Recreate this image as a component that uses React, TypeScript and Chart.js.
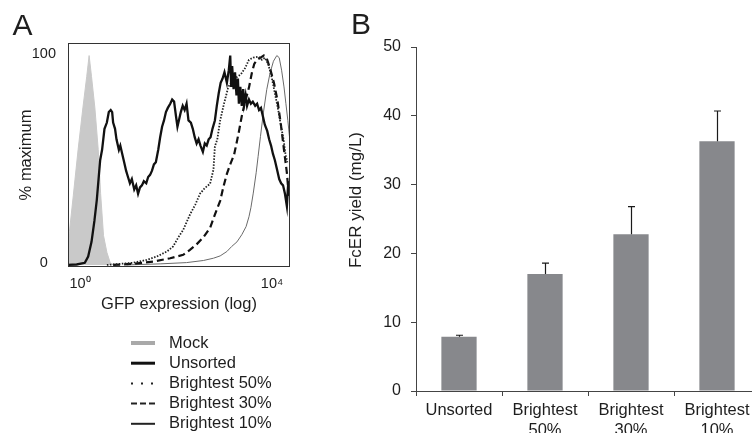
import React, { useEffect, useRef } from 'react';
import { Chart, registerables } from 'chart.js';

Chart.register(...registerables);

const FONT = '"Liberation Sans", Arial, Helvetica, sans-serif';
const TEXT = '#1e1e1e';

// ---------- Panel A : GFP histogram (x = log10 decades, y = % of maximum) ----------
const HIST_X_TICKS = [0, 4];
const HIST_X_TICK_LABELS = ['10⁰', '10⁴'];
const HIST_Y_TICKS = [0, 100];
const HIST_Y_TICK_LABELS = ['0', '100'];
const SERIES_NAMES = ['Mock', 'Unsorted', 'Brightest 50%', 'Brightest 30%', 'Brightest 10%'];

const MOCK: [number, number][] = [
  [-0.25, 11], [-0.22, 16], [-0.14, 33], [-0.04, 55], [0.06, 75], [0.14, 90], [0.19, 100],
  [0.24, 90], [0.31, 75], [0.38, 55], [0.43, 34], [0.49, 14], [0.56, 6], [0.63, 1], [0.69, 0], [0.75, 0],
];

const UNSORTED: [number, number][] = [
  [-0.25, 0], [-0.07, 0.2], [0.1, 1], [0.17, 4], [0.24, 11], [0.3, 21], [0.35, 31], [0.42, 50],
  [0.46, 55], [0.51, 65], [0.56, 68], [0.6, 73], [0.64, 74], [0.67, 73], [0.69, 68], [0.73, 65],
  [0.76, 60], [0.81, 55], [0.84, 57], [0.88, 53], [0.92, 49], [0.96, 45], [1.0, 42], [1.04, 39],
  [1.08, 41], [1.13, 36], [1.17, 38], [1.21, 34], [1.25, 37], [1.29, 38], [1.33, 40], [1.38, 39],
  [1.42, 42], [1.46, 43], [1.5, 45], [1.54, 48], [1.58, 49], [1.63, 55], [1.67, 61], [1.71, 66],
  [1.75, 69], [1.79, 73], [1.83, 75], [1.88, 77], [1.92, 79], [1.96, 78], [2.0, 71], [2.03, 66],
  [2.06, 69], [2.1, 73], [2.14, 76], [2.18, 74], [2.22, 77], [2.26, 69], [2.31, 68], [2.35, 65],
  [2.39, 61], [2.43, 58], [2.47, 60], [2.51, 57], [2.56, 54], [2.6, 58], [2.64, 57], [2.68, 60],
  [2.72, 61], [2.76, 65], [2.81, 69], [2.85, 76], [2.89, 82], [2.93, 87], [2.97, 89], [3.01, 92],
  [3.06, 87], [3.1, 93], [3.13, 100], [3.15, 85], [3.17, 95], [3.2, 84], [3.23, 92], [3.26, 81],
  [3.29, 89], [3.31, 77], [3.34, 85], [3.37, 76], [3.4, 84], [3.42, 77], [3.45, 81], [3.48, 76],
  [3.52, 79], [3.56, 77], [3.6, 78], [3.65, 76], [3.69, 77], [3.73, 74], [3.77, 75], [3.81, 71],
  [3.85, 67], [3.9, 64], [3.94, 60], [3.98, 57], [4.02, 53], [4.06, 50], [4.1, 46], [4.15, 41],
  [4.19, 39], [4.23, 38], [4.27, 34], [4.31, 28], [4.34, 40],
];

const BRIGHT50: [number, number][] = [
  [0.56, 0], [0.83, 0.5], [1.11, 1], [1.39, 2.4], [1.6, 4], [1.81, 6.4], [1.94, 8.8], [2.06, 13.6],
  [2.15, 16.7], [2.29, 24], [2.4, 28.7], [2.5, 34], [2.6, 36.7], [2.71, 38.8], [2.78, 45.5],
  [2.81, 56.6], [2.86, 60], [2.92, 69], [3.0, 77], [3.09, 85], [3.19, 88.5], [3.35, 91], [3.44, 94],
  [3.52, 98], [3.61, 99], [3.72, 99.5], [3.79, 98], [3.85, 99], [3.92, 96], [3.99, 90], [4.06, 82],
  [4.13, 74], [4.19, 66], [4.24, 60], [4.28, 53], [4.32, 49],
];

const BRIGHT30: [number, number][] = [
  [0.69, 0], [1.11, 0.5], [1.53, 1.6], [1.88, 3.2], [2.15, 4.8], [2.29, 7.2], [2.42, 9.6],
  [2.57, 13.2], [2.71, 17.7], [2.81, 24], [2.92, 30.6], [2.99, 37.5], [3.06, 43.5], [3.14, 48.6],
  [3.21, 52.6], [3.26, 58], [3.31, 63.6], [3.37, 71], [3.44, 78], [3.52, 84.7], [3.58, 91.7],
  [3.63, 96], [3.69, 98], [3.76, 99], [3.83, 100], [3.9, 98], [3.97, 93], [4.04, 87], [4.11, 79],
  [4.18, 68], [4.25, 55], [4.31, 44], [4.35, 33],
];

const BRIGHT10: [number, number][] = [
  [0.97, 0], [1.67, 0.5], [2.22, 1.1], [2.57, 2.1], [2.78, 3.2], [2.92, 4.3], [3.06, 6.4],
  [3.16, 8.8], [3.27, 11], [3.37, 14.4], [3.46, 18.3], [3.52, 23], [3.56, 27.3], [3.61, 34.3],
  [3.67, 44], [3.71, 51.7], [3.76, 61.4], [3.82, 72.6], [3.89, 83.7], [3.96, 91.7], [4.03, 97.3],
  [4.1, 100], [4.15, 99], [4.2, 93], [4.25, 85], [4.29, 77], [4.33, 69], [4.37, 60],
];

// ---------- Panel B : FcER yield bars ----------
const YIELD_CATEGORIES: (string | string[])[] = [
  'Unsorted', ['Brightest', '50%'], ['Brightest', '30%'], ['Brightest', '10%'],
];
const YIELD_VALUES = [7.9, 17.0, 22.8, 36.3];
const YIELD_ERRORS = [0.2, 1.6, 4.0, 4.4];
const YIELD_Y_MIN = 0;
const YIELD_Y_MAX = 50;
const YIELD_Y_STEP = 10;
const YIELD_Y_TITLE = 'FcER yield (mg/L)';

// legend sample styles for panel A
const LEGEND_SAMPLES = [
  { color: '#a9a9a9', width: 4, dash: [] as number[] },
  { color: '#111111', width: 3, dash: [] as number[] },
  { color: '#222222', width: 2, dash: [2, 8] },
  { color: '#222222', width: 2, dash: [6, 3] },
  { color: '#222222', width: 2, dash: [] as number[] },
];

const toXY = (arr: [number, number][]) => arr.map(([x, y]) => ({ x, y }));

const letterPlugin = (letter: string, x: number, y: number) => ({
  id: 'letter' + letter,
  afterDraw(chart: any) {
    const ctx = chart.ctx;
    ctx.save();
    ctx.fillStyle = TEXT;
    ctx.font = `30px ${FONT}`;
    ctx.textBaseline = 'alphabetic';
    ctx.textAlign = 'left';
    ctx.fillText(letter, x, y);
    ctx.restore();
  },
});

const boxPlugin = {
  id: 'box',
  afterDatasetsDraw(chart: any) {
    const { ctx, chartArea } = chart;
    ctx.save();
    ctx.strokeStyle = '#333';
    ctx.lineWidth = 1;
    ctx.strokeRect(
      Math.round(chartArea.left) + 0.5,
      Math.round(chartArea.top) + 0.5,
      Math.round(chartArea.right - chartArea.left) - 1,
      Math.round(chartArea.bottom - chartArea.top) - 1,
    );
    ctx.restore();
  },
};

const histLegendPlugin = {
  id: 'histLegend',
  afterDraw(chart: any) {
    const ctx = chart.ctx;
    chart.data.datasets.forEach((ds: any, i: number) => {
      const y = 343 + i * 20.2;
      const st = LEGEND_SAMPLES[i];
      ctx.save();
      ctx.strokeStyle = st.color;
      ctx.lineWidth = st.width;
      ctx.setLineDash(st.dash);
      ctx.beginPath();
      ctx.moveTo(131, y);
      ctx.lineTo(155, y);
      ctx.stroke();
      ctx.restore();
      ctx.save();
      ctx.fillStyle = TEXT;
      ctx.font = `16.5px ${FONT}`;
      ctx.textBaseline = 'middle';
      ctx.textAlign = 'left';
      ctx.fillText(ds.label, 169, y);
      ctx.restore();
    });
  },
};

const errorBarPlugin = {
  id: 'errorBars',
  afterDatasetsDraw(chart: any) {
    const ctx = chart.ctx;
    const ys = chart.scales.y;
    const meta = chart.getDatasetMeta(0);
    ctx.save();
    ctx.strokeStyle = '#1a1a1a';
    ctx.lineWidth = 1.2;
    meta.data.forEach((bar: any, i: number) => {
      const x = Math.round(bar.x) + 0.5;
      const top = ys.getPixelForValue(YIELD_VALUES[i] + YIELD_ERRORS[i]);
      ctx.beginPath();
      ctx.moveTo(x, bar.y);
      ctx.lineTo(x, top);
      ctx.moveTo(x - 3.5, top);
      ctx.lineTo(x + 3.5, top);
      ctx.stroke();
    });
    ctx.restore();
  },
};

const yTitlePluginB = {
  id: 'yTitleB',
  afterDraw(chart: any) {
    const ctx = chart.ctx;
    ctx.save();
    ctx.translate(16, 200);
    ctx.rotate(-Math.PI / 2);
    ctx.fillStyle = TEXT;
    ctx.font = `17px ${FONT}`;
    ctx.textAlign = 'center';
    ctx.textBaseline = 'middle';
    ctx.fillText(YIELD_Y_TITLE, 0, 0);
    ctx.restore();
  },
};

export default function App() {
  const aRef = useRef<HTMLCanvasElement>(null);
  const bRef = useRef<HTMLCanvasElement>(null);

  useEffect(() => {
    const lineCommon = { pointRadius: 0, tension: 0, fill: false };
    const chartA = new Chart(aRef.current as HTMLCanvasElement, {
      type: 'line',
      data: {
        datasets: [
          {
            ...lineCommon, label: SERIES_NAMES[0], data: toXY(MOCK), borderColor: '#c9c9c9',
            backgroundColor: '#c9c9c9', borderWidth: 1, fill: 'origin', order: 5,
          },
          { ...lineCommon, label: SERIES_NAMES[1], data: toXY(UNSORTED), borderColor: '#111', borderWidth: 2.3, order: 1 },
          { ...lineCommon, label: SERIES_NAMES[2], data: toXY(BRIGHT50), borderColor: '#222', borderWidth: 1.8, borderDash: [1.5, 1.5], order: 2 },
          { ...lineCommon, label: SERIES_NAMES[3], data: toXY(BRIGHT30), borderColor: '#111', borderWidth: 2.2, borderDash: [7, 4], order: 3 },
          { ...lineCommon, label: SERIES_NAMES[4], data: toXY(BRIGHT10), borderColor: '#6a6a6a', borderWidth: 1, order: 4 },
        ] as any,
      },
      options: {
        animation: false,
        responsive: true,
        maintainAspectRatio: false,
        layout: { padding: { top: 43, right: 10, bottom: 115, left: 0 } },
        plugins: { legend: { display: false }, tooltip: { enabled: false } },
        scales: {
          x: {
            type: 'linear',
            min: -0.25,
            max: 4.375,
            afterBuildTicks: (s: any) => { s.ticks = HIST_X_TICKS.map((v) => ({ value: v })); },
            afterFit: (s: any) => { s.height = 51; },
            grid: { display: false, drawTicks: false },
            border: { display: false },
            ticks: {
              padding: 8,
              color: TEXT,
              font: { family: FONT, size: 14.5 },
              maxRotation: 0,
              autoSkip: false,
              callback: (_v: any, i: number) => HIST_X_TICK_LABELS[i],
            },
            title: {
              display: true, text: 'GFP expression (log)', color: TEXT,
              font: { family: FONT, size: 16.5 }, padding: { top: 0, bottom: 4 },
            },
          },
          y: {
            type: 'linear',
            min: -1,
            max: 106,
            afterBuildTicks: (s: any) => { s.ticks = HIST_Y_TICKS.map((v) => ({ value: v })); },
            afterFit: (s: any) => { s.width = 68; },
            grid: { display: false, drawTicks: false },
            border: { display: false },
            ticks: {
              padding: 12,
              crossAlign: 'center',
              labelOffset: -2,
              color: TEXT,
              font: { family: FONT, size: 14.5 },
              callback: (_v: any, i: number) => HIST_Y_TICK_LABELS[i],
            },
            title: {
              display: true, text: '% maximum', color: TEXT,
              font: { family: FONT, size: 16.5 }, padding: { top: 17, bottom: 0 },
            },
          },
        },
      } as any,
      plugins: [boxPlugin, histLegendPlugin, letterPlugin('A', 12.5, 35)],
    });

    const chartB = new Chart(bRef.current as HTMLCanvasElement, {
      type: 'bar',
      data: {
        labels: YIELD_CATEGORIES as any,
        datasets: [
          {
            label: YIELD_Y_TITLE,
            data: YIELD_VALUES,
            backgroundColor: '#87888c',
            barPercentage: 0.41,
            categoryPercentage: 1,
          },
        ],
      },
      options: {
        animation: false,
        responsive: true,
        maintainAspectRatio: false,
        layout: { padding: { top: 47, right: 10, bottom: 0, left: 0 } },
        plugins: { legend: { display: false }, tooltip: { enabled: false } },
        scales: {
          x: {
            grid: { display: true, drawOnChartArea: false, tickLength: 5, color: '#444', offset: true },
            border: { color: '#444' },
            ticks: { padding: 5, color: TEXT, font: { family: FONT, size: 16.5 }, maxRotation: 0, autoSkip: false },
            afterFit: (s: any) => { s.height = 42; },
          },
          y: {
            min: YIELD_Y_MIN,
            max: YIELD_Y_MAX,
            ticks: { stepSize: YIELD_Y_STEP, padding: 10, color: TEXT, font: { family: FONT, size: 16 } },
            grid: { drawOnChartArea: false, tickLength: 5, color: '#444' },
            border: { color: '#444' },
            afterFit: (s: any) => { s.width = 76; },
          },
        },
      } as any,
      plugins: [errorBarPlugin, yTitlePluginB, letterPlugin('B', 11, 33.5)],
    });

    return () => {
      chartA.destroy();
      chartB.destroy();
    };
  }, []);

  return (
    <div
      style={{
        position: 'fixed', left: 0, top: 0, width: 752, height: 433,
        overflow: 'hidden', background: '#fff',
      }}
    >
      <div style={{ position: 'absolute', left: 0, top: 0, width: 300, height: 433 }}>
        <canvas ref={aRef} />
      </div>
      <div style={{ position: 'absolute', left: 340, top: 0, width: 430, height: 433 }}>
        <canvas ref={bRef} />
      </div>
    </div>
  );
}
